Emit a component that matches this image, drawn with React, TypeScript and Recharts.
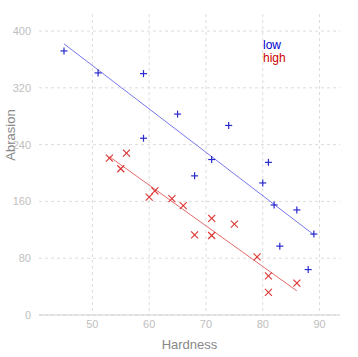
import React from "react";
import { ScatterChart, Scatter, XAxis, YAxis, CartesianGrid } from "recharts";

const lowHardness = [45, 51, 59, 59, 65, 74, 71, 81, 68, 80, 82, 86, 89, 83, 88];
const lowAbrasion = [372, 341, 340, 249, 283, 267, 219, 215, 196, 186, 155, 148, 114, 97, 64];
const highHardness = [55, 61, 66, 71, 71, 81, 86, 53, 60, 64, 68, 79, 81, 56, 75];
const highAbrasion = [206, 175, 154, 136, 112, 55, 45, 221, 166, 164, 113, 82, 32, 228, 128];
const lowFitX = [45, 89];
const lowFitY = [382, 113];
const highFitX = [53, 86];
const highFitY = [223, 34];
const xTicks = [50, 60, 70, 80, 90];
const yTicks = [0, 80, 160, 240, 320, 400];
const seriesNames = ["low", "high"];

const zip = (xs: number[], ys: number[]) => xs.map((x, i) => ({ x, y: ys[i] }));
const lowData = zip(lowHardness, lowAbrasion);
const highData = zip(highHardness, highAbrasion);
const lowFit = zip(lowFitX, lowFitY);
const highFit = zip(highFitX, highFitY);

const FONT = "'Liberation Sans', Arial, sans-serif";

const Plus = (props: any) => {
  const { cx, cy } = props;
  const h = 3.5;
  return (
    <g>
      <line x1={cx - h} y1={cy} x2={cx + h} y2={cy} stroke="#2a2acc" strokeWidth={1.2} />
      <line x1={cx} y1={cy - h} x2={cx} y2={cy + h} stroke="#2a2acc" strokeWidth={1.2} />
    </g>
  );
};

const Cross = (props: any) => {
  const { cx, cy } = props;
  const h = 3.5;
  return (
    <g>
      <line x1={cx - h} y1={cy - h} x2={cx + h} y2={cy + h} stroke="#dd3333" strokeWidth={1.1} />
      <line x1={cx - h} y1={cy + h} x2={cx + h} y2={cy - h} stroke="#dd3333" strokeWidth={1.1} />
    </g>
  );
};

const Nothing = () => <g />;

const YLabel = () => (
  <text
    x={10}
    y={135}
    transform="rotate(-90 10 135)"
    textAnchor="middle"
    dominantBaseline="central"
    fill="#888888"
    fontSize={13}
    fontFamily={FONT}
  >
    Abrasion
  </text>
);

export default function App() {
  return (
    <div style={{ position: "absolute", left: 0, top: 0, width: 358, height: 357, background: "#fff" }}>
      <ScatterChart width={358} height={357} margin={{ top: 14, right: 18, bottom: 0, left: 0 }}>
        <CartesianGrid stroke="#dcdcdc" strokeDasharray="3 3" horizontalValues={yTicks} verticalValues={xTicks} />
        <XAxis
          type="number"
          dataKey="x"
          domain={[40.6, 93.6]}
          ticks={xTicks}
          allowDataOverflow
          height={42}
          tickLine={false}
          tickSize={0}
          axisLine={{ stroke: "#d0d0d0" }}
          tick={{ fill: "#c0c0c0", fontSize: 11, fontFamily: FONT }}
          tickMargin={5}
          label={{ value: "Hardness", position: "insideBottom", offset: 8, fill: "#888888", fontSize: 13, fontFamily: FONT }}
        />
        <YAxis
          type="number"
          dataKey="y"
          domain={[0, 424]}
          ticks={yTicks}
          allowDataOverflow
          width={39}
          tickLine={false}
          tickSize={0}
          axisLine={false}
          tick={{ fill: "#c0c0c0", fontSize: 11, fontFamily: FONT }}
          tickMargin={8}
          label={{ content: () => <YLabel /> }}
        />
        <Scatter data={lowFit} line={{ stroke: "#7777ee", strokeWidth: 1 }} shape={<Nothing />} isAnimationActive={false} legendType="none" />
        <Scatter data={highFit} line={{ stroke: "#e46a6a", strokeWidth: 1 }} shape={<Nothing />} isAnimationActive={false} legendType="none" />
        <Scatter data={lowData} shape={<Plus />} isAnimationActive={false} />
        <Scatter data={highData} shape={<Cross />} isAnimationActive={false} />
      </ScatterChart>
      <div style={{ position: "absolute", left: 263, top: 39, fontFamily: FONT, fontSize: 12, lineHeight: "12.5px" }}>
        <div style={{ color: "#0000cc" }}>{seriesNames[0]}</div>
        <div style={{ color: "#cc0000" }}>{seriesNames[1]}</div>
      </div>
    </div>
  );
}
